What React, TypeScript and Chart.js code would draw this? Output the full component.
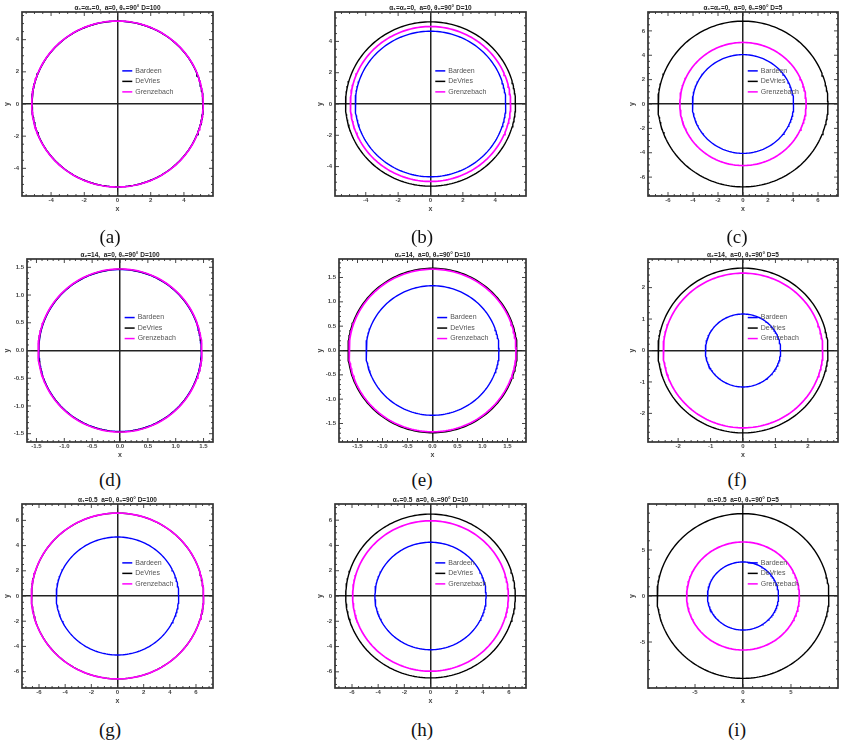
import React, { useEffect, useRef } from "react";
import { Chart, registerables } from "chart.js";
Chart.register(...registerables);

// ---------- data ----------
const panelTitles = [
  "α₁=α₂=0,  a=0, θ₀=90° D=100",
  "α₁=α₂=0,  a=0, θ₀=90° D=10",
  "α₁=α₂=0,  a=0, θ₀=90° D=5",
  "α₂=14,  a=0, θ₀=90° D=100",
  "α₂=14,  a=0, θ₀=90° D=10",
  "α₂=14,  a=0, θ₀=90° D=5",
  "α₁=0.5  a=0, θ₀=90° D=100",
  "α₁=0.5  a=0, θ₀=90° D=10",
  "α₁=0.5  a=0, θ₀=90° D=5",
];
const panelLabels = ["(a)", "(b)", "(c)", "(d)", "(e)", "(f)", "(g)", "(h)", "(i)"];
const modelNames = ["Bardeen", "DeVries", "Grenzebach"];
const bardeenRadius = [5.15, 4.65, 4.05, 1.46, 1.33, 1.16, 4.68, 4.25, 3.7];
const devriesRadius = [5.15, 5.25, 6.8, 1.465, 1.69, 2.62, 6.575, 6.48, 8.95];
const grenzebachRadius = [5.16, 4.95, 5.05, 1.47, 1.67, 2.46, 6.58, 5.95, 5.87];
const axisLimitX = [5.75, 5.9, 7.6, 1.67, 1.87, 2.93, 7.3, 7.3, 9.9];
const axisLimitY = [5.72, 5.88, 7.55, 1.65, 1.88, 2.91, 7.3, 7.28, 10.0];
const majorTicks = [
  [-4, -2, 0, 2, 4],
  [-4, -2, 0, 2, 4],
  [-6, -4, -2, 0, 2, 4, 6],
  [-1.5, -1, -0.5, 0, 0.5, 1, 1.5],
  [-1.5, -1, -0.5, 0, 0.5, 1, 1.5],
  [-2, -1, 0, 1, 2],
  [-6, -4, -2, 0, 2, 4, 6],
  [-6, -4, -2, 0, 2, 4, 6],
  [-5, 0, 5],
];
const majorTickLabels = [
  ["-4", "-2", "0", "2", "4"],
  ["-4", "-2", "0", "2", "4"],
  ["-6", "-4", "-2", "0", "2", "4", "6"],
  ["-1.5", "-1.0", "-0.5", "0.0", "0.5", "1.0", "1.5"],
  ["-1.5", "-1.0", "-0.5", "0.0", "0.5", "1.0", "1.5"],
  ["-2", "-1", "0", "1", "2"],
  ["-6", "-4", "-2", "0", "2", "4", "6"],
  ["-6", "-4", "-2", "0", "2", "4", "6"],
  ["-5", "0", "5"],
];
const minorTickSteps = [0.5, 0.5, 0.5, 0.1, 0.1, 0.2, 0.5, 0.5, 1];

// ---------- layout ----------
const modelColors = ["#0000ff", "#000000", "#ff00ff"];
const modelWidths = [1.4, 1.4, 1.7];
const modelOrder = [2, 1, 0]; // lower order is drawn on top
const frameLeft = [22, 335, 648, 27, 339, 648, 22, 335, 648];
const frameRight = [213, 526, 838, 213, 526, 838, 213, 526, 838];
const rowTop = [12, 259, 504];
const rowBottom = [196, 442, 688];
const colCanvasLeft = [0, 313, 625];
const labelCenterX = [110, 422, 737];
const labelCenterY = [237, 480, 730];
const SANS = '"Liberation Sans", Arial, sans-serif';

const decorPlugin = {
  id: "decor",
  afterDraw(chart: any, _args: any, opts: any) {
    const ctx = chart.ctx;
    const { left, top, right, bottom } = chart.chartArea;
    const xs = chart.scales.x;
    const ys = chart.scales.y;
    const majors: number[] = opts.majors;
    const step: number = opts.minorStep;
    ctx.save();
    ctx.strokeStyle = "#333";
    ctx.lineWidth = 0.9;
    const isMajor = (v: number) => majors.some((m) => Math.abs(m - v) < 1e-9);
    const drawTicks = (scale: any, horizontal: boolean) => {
      const k0 = Math.ceil(scale.min / step - 1e-9);
      const k1 = Math.floor(scale.max / step + 1e-9);
      for (let k = k0; k <= k1; k++) {
        const v = k * step;
        const len = isMajor(v) ? 4 : 2;
        const p = scale.getPixelForValue(v);
        ctx.beginPath();
        if (horizontal) {
          ctx.moveTo(p, bottom);
          ctx.lineTo(p, bottom - len);
          ctx.moveTo(p, top);
          ctx.lineTo(p, top + len);
        } else {
          ctx.moveTo(left, p);
          ctx.lineTo(left + len, p);
          ctx.moveTo(right, p);
          ctx.lineTo(right - len, p);
        }
        ctx.stroke();
      }
    };
    drawTicks(xs, true);
    drawTicks(ys, false);
    ctx.lineWidth = 1.7;
    ctx.strokeStyle = "#333";
    ctx.strokeRect(left, top, right - left, bottom - top);

    // title
    ctx.fillStyle = "#222";
    ctx.font = `bold 6.5px ${SANS}`;
    ctx.textAlign = "center";
    ctx.textBaseline = "bottom";
    ctx.fillText(opts.title, (left + right) / 2, top - 1);

    // legend
    const lx = left + 0.525 * (right - left);
    const ly = top + 0.32 * (bottom - top);
    chart.data.datasets.forEach((ds: any, i: number) => {
      const y = ly + i * 10.5;
      ctx.strokeStyle = ds.borderColor;
      ctx.lineWidth = 1.5;
      ctx.beginPath();
      ctx.moveTo(lx, y);
      ctx.lineTo(lx + 10, y);
      ctx.stroke();
      ctx.fillStyle = "#555";
      ctx.font = `7px ${SANS}`;
      ctx.textAlign = "left";
      ctx.textBaseline = "middle";
      ctx.fillText(ds.label, lx + 13, y);
    });
    ctx.restore();
  },
};

function circlePoints(r: number) {
  const pts: { x: number; y: number }[] = [];
  const n = 200;
  for (let i = 0; i <= n; i++) {
    const t = (2 * Math.PI * i) / n;
    pts.push({ x: r * Math.cos(t), y: r * Math.sin(t) });
  }
  return pts;
}

function Panel({ index }: { index: number }) {
  const ref = useRef<HTMLCanvasElement>(null);
  const row = Math.floor(index / 3);
  const col = index % 3;
  const canvasLeft = colCanvasLeft[col];
  const padL = frameLeft[index] - canvasLeft;
  const frameW = frameRight[index] - frameLeft[index];
  const frameH = rowBottom[row] - rowTop[row];
  const W = padL + frameW + 4;
  const H = 12 + frameH + 22;
  const canvasTop = rowTop[row] - 12;

  useEffect(() => {
    if (!ref.current) return;
    const radii = [bardeenRadius[index], devriesRadius[index], grenzebachRadius[index]];
    const ticks = majorTicks[index];
    const labels = majorTickLabels[index];
    const tickCb = (value: any) => {
      const j = ticks.findIndex((t) => Math.abs(t - Number(value)) < 1e-9);
      return j >= 0 ? labels[j] : "";
    };
    const gridColor = (c: any) =>
      c.tick && Math.abs(c.tick.value) < 1e-9 ? "#222" : "rgba(0,0,0,0)";
    const tickFont = { family: SANS, size: 6, weight: "bold" as const };
    const chart = new Chart(ref.current, {
      type: "scatter",
      data: {
        datasets: modelNames.map((name, i) => ({
          label: name,
          data: circlePoints(radii[i]),
          showLine: true,
          borderColor: modelColors[i],
          backgroundColor: modelColors[i],
          borderWidth: modelWidths[i],
          order: modelOrder[i],
          pointRadius: 0,
          fill: false,
        })),
      },
      options: {
        animation: false,
        responsive: true,
        maintainAspectRatio: false,
        layout: { padding: { top: 12, right: 4, left: 0, bottom: 0 } },
        plugins: {
          legend: { display: false },
          tooltip: { enabled: false },
          decor: { title: panelTitles[index], majors: ticks, minorStep: minorTickSteps[index] },
        } as any,
        scales: {
          x: {
            type: "linear",
            min: -axisLimitX[index],
            max: axisLimitX[index],
            afterBuildTicks: (s: any) => {
              s.ticks = ticks.map((v) => ({ value: v }));
            },
            afterFit: (s: any) => {
              s.height = 22;
            },
            ticks: { callback: tickCb, font: tickFont, color: "#444", padding: 1, maxRotation: 0, autoSkip: false },
            grid: { color: gridColor, lineWidth: 1.5, drawTicks: false },
            border: { display: false },
            title: { display: true, text: "x", font: { family: SANS, size: 7, weight: "bold" }, color: "#444", padding: { top: 0, bottom: 4.8 } },
          },
          y: {
            type: "linear",
            min: -axisLimitY[index],
            max: axisLimitY[index],
            afterBuildTicks: (s: any) => {
              s.ticks = ticks.map((v) => ({ value: v }));
            },
            afterFit: (s: any) => {
              s.width = padL;
            },
            ticks: { callback: tickCb, font: tickFont, color: "#444", padding: 3, autoSkip: false },
            grid: { color: gridColor, lineWidth: 1.5, drawTicks: false },
            border: { display: false },
            title: { display: true, text: "y", font: { family: SANS, size: 7, weight: "bold" }, color: "#444", padding: { top: 2.8, bottom: 0 } },
          },
        },
      },
      plugins: [decorPlugin as any],
    });
    return () => chart.destroy();
  }, [index]);

  return (
    <div style={{ position: "absolute", left: canvasLeft, top: canvasTop, width: W, height: H }}>
      <canvas ref={ref} />
    </div>
  );
}

export default function App() {
  return (
    <div style={{ position: "absolute", left: 0, top: 0, width: 845, height: 746, background: "#fff" }}>
      {panelTitles.map((_, i) => (
        <Panel key={i} index={i} />
      ))}
      {panelLabels.map((lab, i) => (
        <div
          key={"l" + i}
          style={{
            position: "absolute",
            left: labelCenterX[i % 3] - 30,
            top: labelCenterY[Math.floor(i / 3)] - 11,
            width: 60,
            height: 22,
            lineHeight: "22px",
            textAlign: "center",
            fontFamily: '"Liberation Serif", "DejaVu Serif", serif',
            fontSize: 19,
            color: "#111",
          }}
        >
          {lab}
        </div>
      ))}
    </div>
  );
}
